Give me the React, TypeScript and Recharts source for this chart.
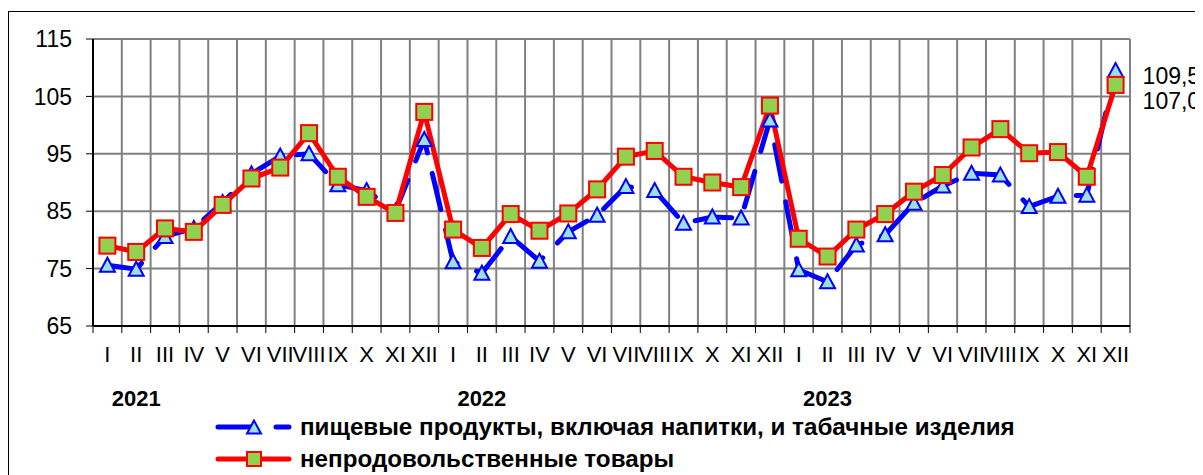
import React from 'react';
import { LineChart, Line, XAxis, YAxis, CartesianGrid, Legend, LabelList } from 'recharts';

const months = ['I', 'II', 'III', 'IV', 'V', 'VI', 'VII', 'VIII', 'IX', 'X', 'XI', 'XII'];
const years = ['2021', '2022', '2023'];
const foodValues = [
  75.6, 74.9, 80.6, 82.0, 86.5, 91.5, 94.6, 95.0, 89.6, 88.6, 85.0, 97.5,
  76.2, 74.2, 80.6, 76.3, 81.4, 84.3, 89.3, 88.6, 82.9, 84.0, 83.8, 100.9,
  74.8, 72.7, 79.1, 80.9, 86.4, 89.4, 91.6, 91.3, 85.8, 87.6, 87.8, 109.5,
];
const nonFoodValues = [
  79.0, 77.9, 82.0, 81.4, 86.1, 90.7, 92.6, 98.6, 91.0, 87.5, 84.7, 102.3,
  81.8, 78.6, 84.5, 81.6, 84.6, 88.8, 94.5, 95.5, 91.0, 90.0, 89.2, 103.4,
  80.2, 77.1, 81.8, 84.5, 88.4, 91.3, 96.1, 99.3, 95.1, 95.3, 91.0, 107.0,
];
const yTicks = [65, 75, 85, 95, 105, 115];
const seriesNames = [
  'пищевые продукты, включая напитки, и табачные изделия',
  'непродовольственные товары',
];

const data = foodValues.map((f, i) => ({
  x: i + 0.5,
  month: months[i % 12],
  year: years[Math.floor(i / 12)],
  food: f,
  nonfood: nonFoodValues[i],
}));
const boundaryTicks = Array.from({ length: data.length + 1 }, (_, i) => i);
const centerTicks = data.map((d) => d.x);

const FONT = "Arial, 'Liberation Sans', sans-serif";
const BLUE = '#0000FF';
const RED = '#FF0000';
const TRI_FILL = '#9EDFE2';
const SQ_FILL = '#92D050';

const Triangle = (props: any) => {
  const { cx, cy, index } = props;
  if (cx == null || cy == null) return <g key={`t${index}`} />;
  return (
    <polygon
      key={`t${index}`}
      points={`${cx},${cy - 7.5} ${cx - 7.5},${cy + 6.5} ${cx + 7.5},${cy + 6.5}`}
      fill={TRI_FILL}
      stroke={BLUE}
      strokeWidth={2}
      strokeLinejoin="miter"
    />
  );
};

const Square = (props: any) => {
  const { cx, cy, index } = props;
  if (cx == null || cy == null) return <g key={`s${index}`} />;
  return (
    <rect key={`s${index}`} x={cx - 8} y={cy - 8} width={16} height={16} fill={SQ_FILL} stroke={RED} strokeWidth={2} />
  );
};

const EmptyTick = () => <g />;

const MonthTick = (props: any) => {
  const { x, y, payload } = props;
  const idx = Math.floor(payload.value);
  return (
    <g>
      <text x={x} y={y + 28} textAnchor="middle" fontSize={22} fontFamily={FONT} fill="#000">
        {months[idx % 12]}
      </text>
      {idx % 12 === 1 && (
        <text x={x} y={y + 72} textAnchor="middle" fontSize={22} fontWeight="bold" fontFamily={FONT} fill="#000">
          {years[Math.floor(idx / 12)]}
        </text>
      )}
    </g>
  );
};

const endLabel = (dyOff: number) => (props: any) => {
  const { x, y, value, index } = props;
  if (index !== data.length - 1) return null;
  return (
    <text x={x + 27} y={y + dyOff} dy="0.35em" fontSize={23} fontFamily={FONT} fill="#000">
      {Number(value).toFixed(1).replace('.', ',')}
    </text>
  );
};

const LegendBox = () => (
  <div style={{ fontFamily: FONT, fontWeight: 'bold', fontSize: 24.2, color: '#000' }}>
    <div style={{ display: 'flex', alignItems: 'center', height: 32 }}>
      <svg width={92} height={20} style={{ flex: 'none' }}>
        <line x1={10} y1={10} x2={81} y2={10} stroke={BLUE} strokeWidth={5} strokeDasharray="37 21" strokeLinecap="round" />
        <polygon points="46,3.5 39,16.5 53,16.5" fill={TRI_FILL} stroke={BLUE} strokeWidth={2} />
      </svg>
      <span style={{ whiteSpace: 'nowrap' }}>{seriesNames[0]}</span>
    </div>
    <div style={{ display: 'flex', alignItems: 'center', height: 32 }}>
      <svg width={92} height={20} style={{ flex: 'none' }}>
        <line x1={10} y1={10} x2={81} y2={10} stroke={RED} strokeWidth={5} strokeLinecap="round" />
        <rect x={39} y={3} width={14} height={14} fill={SQ_FILL} stroke={RED} strokeWidth={2} />
      </svg>
      <span style={{ whiteSpace: 'nowrap' }}>{seriesNames[1]}</span>
    </div>
  </div>
);

export default function App() {
  return (
    <div style={{ position: 'relative', width: 1195, height: 467, overflow: 'hidden', fontFamily: FONT }}>
      <div
        style={{
          position: 'absolute',
          left: 0,
          top: 3,
          width: 1400,
          height: 700,
          borderTop: '1px solid #000',
          borderLeft: '1px solid #000',
        }}
      />
      <LineChart width={1195} height={467} data={data} margin={{ top: 31, right: 73, left: 0, bottom: 0 }}>
        <CartesianGrid stroke="#808080" strokeWidth={2} />
        <XAxis
          xAxisId={0}
          dataKey="x"
          type="number"
          domain={[0, 36]}
          ticks={boundaryTicks}
          interval={0}
          height={8}
          tickSize={7}
          tick={<EmptyTick />}
          axisLine={{ stroke: '#000', strokeWidth: 2 }}
          tickLine={{ stroke: '#000', strokeWidth: 1 }}
        />
        <XAxis
          xAxisId="lab"
          dataKey="x"
          type="number"
          domain={[0, 36]}
          ticks={centerTicks}
          interval={0}
          height={141}
          tickSize={0}
          tickMargin={0}
          axisLine={false}
          tickLine={false}
          tick={<MonthTick />}
        />
        <YAxis
          width={85}
          type="number"
          domain={[65, 115]}
          ticks={yTicks}
          interval={0}
          tickSize={7}
          tickMargin={14}
          axisLine={{ stroke: '#000', strokeWidth: 2 }}
          tickLine={{ stroke: '#000', strokeWidth: 1 }}
          tick={{ fontSize: 23, fill: '#000', fontFamily: FONT }}
        />
        <Legend
          layout="vertical"
          align="center"
          verticalAlign="middle"
          wrapperStyle={{ left: 200, top: 403, width: 990 }}
          content={() => <LegendBox />}
        />
        <Line
          type="linear"
          dataKey="food"
          name={seriesNames[0]}
          stroke={BLUE}
          strokeWidth={5}
          strokeDasharray="37 21"
          strokeLinecap="round"
          dot={(p: any) => <Triangle key={`t${p.index}`} {...p} />}
          activeDot={false}
          isAnimationActive={false}
        >
          <LabelList dataKey="food" content={endLabel(5)} />
        </Line>
        <Line
          type="linear"
          dataKey="nonfood"
          name={seriesNames[1]}
          stroke={RED}
          strokeWidth={5}
          dot={(p: any) => <Square key={`s${p.index}`} {...p} />}
          activeDot={false}
          isAnimationActive={false}
        >
          <LabelList dataKey="nonfood" content={endLabel(16)} />
        </Line>
      </LineChart>
    </div>
  );
}
